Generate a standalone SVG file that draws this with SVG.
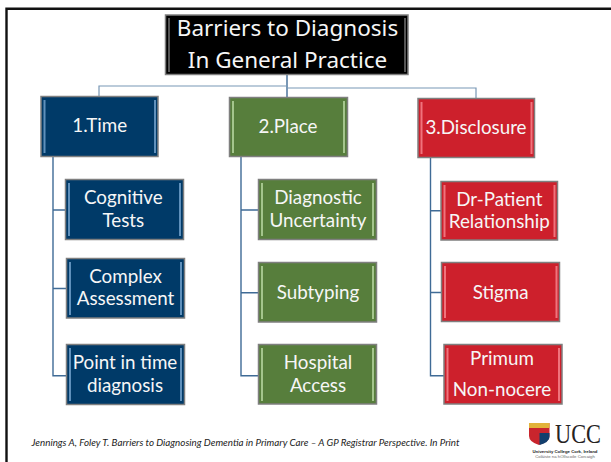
<svg xmlns="http://www.w3.org/2000/svg" width="611" height="462" viewBox="0 0 611 462">
<style>
text{font-family:"Lato","Open Sans",sans-serif;fill:#f6f6f6;text-anchor:middle;font-size:18.800px}
.t{font-family:"Noto Sans","Open Sans",sans-serif;font-size:22.500px}
.o{stroke:#7f7f7f;stroke-width:1.5}
.blue{fill:#003a68}.green{fill:#577e3c}.red{fill:#cd202c}.black{fill:#000}
.hb{fill:#5f90bb}.hg{fill:#a4c58c}.hr{fill:#f0737c}.hk{fill:#555}
.c{fill:none;stroke:#3f6b96;stroke-width:1.4}
.c2{fill:none;stroke:#7897b5;stroke-width:1.2}
</style>
<rect width="611" height="462" fill="#fff"/>
<path d="M6.500 462V8.800H611" fill="none" stroke="#111" stroke-width="2.400"/>
<g id="connectors">
<path class="c" d="M287 75V97"/>
<path class="c2" d="M287 86H99V96M287 88H476V98"/>
<path class="c" d="M53 157V375.700H66M53 288.500H66M53 210H65"/>
<path class="c" d="M241 157V375.700H258M241 292.700H258M241 210H258"/>
<path class="c" d="M430.500 158V375.700H444M430.500 292.500H441M430.500 210.700H441"/>
</g>
<g id="title"><rect class="black o" x="165.500" y="15" width="242.500" height="59.500"/><rect class="hk" x="168" y="18" width="2" height="54"/><rect class="hk" x="404" y="18" width="2" height="54"/><text class="t" x="287.500" y="36">Barriers to Diagnosis</text><text class="t" x="287.500" y="68">In General Practice</text></g>
<g id="n-time"><rect class="blue o" x="41" y="96.500" width="117" height="60"/><rect class="hb" x="43.500" y="100" width="2" height="53"/><rect class="hb" x="154" y="100" width="2" height="53"/><text x="99.700" y="132">1.Time</text></g>
<g id="n-place"><rect class="green o" x="229.500" y="97.500" width="118" height="59"/><rect class="hg" x="232" y="101" width="2" height="52"/><rect class="hg" x="343" y="101" width="2" height="52"/><text x="288" y="133">2.Place</text></g>
<g id="n-disclosure"><rect class="red o" x="418" y="98.500" width="116.500" height="59"/><rect class="hr" x="420.500" y="102" width="2" height="52"/><rect class="hr" x="530.500" y="102" width="2" height="52"/><text x="476" y="134">3.Disclosure</text></g>
<g id="n-cognitive"><rect class="blue o" x="65.500" y="179.500" width="118" height="60"/><rect class="hb" x="68" y="183" width="2" height="53"/><rect class="hb" x="179" y="183" width="2" height="53"/><text x="123.300" y="204">Cognitive</text><text x="123.300" y="227">Tests</text></g>
<g id="n-complex"><rect class="blue o" x="66.500" y="258.500" width="118" height="59.500"/><rect class="hb" x="69" y="262" width="2" height="53"/><rect class="hb" x="180" y="262" width="2" height="53"/><text x="125.500" y="283">Complex</text><text x="125.500" y="305">Assessment</text></g>
<g id="n-point"><rect class="blue o" x="66.500" y="344.500" width="118" height="60"/><rect class="hb" x="69" y="348" width="2" height="53"/><rect class="hb" x="180" y="348" width="2" height="53"/><text x="125" y="369">Point in time</text><text x="125" y="391.500">diagnosis</text></g>
<g id="n-diagnostic"><rect class="green o" x="258.500" y="179.500" width="118" height="60"/><rect class="hg" x="261" y="183" width="2" height="53"/><rect class="hg" x="372" y="183" width="2" height="53"/><text x="318" y="204">Diagnostic</text><text x="318" y="227">Uncertainty</text></g>
<g id="n-subtyping"><rect class="green o" x="258.500" y="262.500" width="118" height="59.500"/><rect class="hg" x="261" y="266" width="2" height="53"/><rect class="hg" x="372" y="266" width="2" height="53"/><text x="318" y="299">Subtyping</text></g>
<g id="n-hospital"><rect class="green o" x="258.500" y="344.500" width="118" height="59.500"/><rect class="hg" x="261" y="348" width="2" height="53"/><rect class="hg" x="372" y="348" width="2" height="53"/><text x="318" y="369">Hospital</text><text x="318" y="391.500">Access</text></g>
<g id="n-drpatient"><rect class="red o" x="441" y="181.500" width="116.500" height="58.500"/><rect class="hr" x="443.500" y="185" width="2" height="52"/><rect class="hr" x="553.500" y="185" width="2" height="52"/><text x="499.300" y="206">Dr-Patient</text><text x="499.300" y="228">Relationship</text></g>
<g id="n-stigma"><rect class="red o" x="441.500" y="262.500" width="118" height="59"/><rect class="hr" x="444" y="266" width="2" height="52"/><rect class="hr" x="555.500" y="266" width="2" height="52"/><text x="500.700" y="299">Stigma</text></g>
<g id="n-primum"><rect class="red o" x="444" y="344.500" width="118" height="59.500"/><rect class="hr" x="446.500" y="348" width="2" height="53"/><rect class="hr" x="558" y="348" width="2" height="53"/><text x="502" y="365">Primum</text><text x="502" y="396">Non-nocere</text></g>
<text x="245.500" y="446" style="fill:#222;font-size:9.800px;font-style:italic">Jennings A, Foley T. Barriers to Diagnosing Dementia in Primary Care – A GP Registrar Perspective. In Print</text>
<g id="logo">
<path d="M529 423H549.500V436Q549.500 442 539 445Q529 442 529 436Z" fill="#c9252d"/>
<path d="M529 423H549.500V428H529Z" fill="#e2b33a"/>
<path d="M539.500 433H549.500V437Q549.500 442 539.500 445Z" fill="#123f6d"/>
<text x="578" y="442.500" textLength="46" lengthAdjust="spacingAndGlyphs" style="fill:#26231f;font-family:'Liberation Serif',serif;font-size:27px">UCC</text>
<text x="565" y="452.500" style="fill:#222;font-family:'Liberation Sans',sans-serif;font-size:4.300px;font-weight:bold">University College Cork, Ireland</text>
<text x="565" y="458" style="fill:#666;font-family:'Liberation Sans',sans-serif;font-size:4.300px">Coláiste na hOllscoile Corcaigh</text>
</g>
</svg>
